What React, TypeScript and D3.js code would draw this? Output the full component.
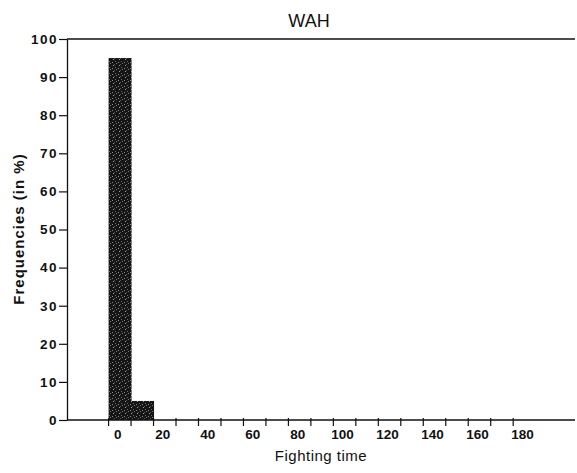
import React, { useEffect, useRef } from "react";
import * as d3 from "d3";

// histogram bins (centre of bin, width 10) and frequencies in %
const binCenters = [0, 10];
const frequencies = [95, 5];
const binWidth = 10;

const yTicks = [0, 10, 20, 30, 40, 50, 60, 70, 80, 90, 100];
const xTickLabels = [0, 20, 40, 60, 80, 100, 120, 140, 160, 180];
const xTickMarks = d3.range(-5, 180, 10);

const title = "WAH";
const xAxisLabel = "Fighting time";
const yAxisLabel = "Frequencies (in %)";

const App = () => {
  const svgRef = useRef<SVGSVGElement | null>(null);
  const svgWidth = 577;
  const svgHeight = 473;
  const margin = { top: 39, right: 2, bottom: 53, left: 67 };
  const innerWidth = svgWidth - margin.left - margin.right;
  const innerHeight = svgHeight - margin.top - margin.bottom;

  useEffect(() => {
    const svg = d3
      .select(svgRef.current)
      .attr("width", svgWidth)
      .attr("height", svgHeight);

    // Clear SVG
    svg.selectAll("*").remove();

    // speckled dark fill, like the scanned bars
    const pattern = svg
      .append("defs")
      .append("pattern")
      .attr("id", "speckle")
      .attr("width", 6)
      .attr("height", 6)
      .attr("patternUnits", "userSpaceOnUse");
    pattern.append("rect").attr("width", 6).attr("height", 6).attr("fill", "#151515");
    [
      [1, 0, "#777"],
      [4, 2, "#999"],
      [0, 4, "#666"],
      [3, 5, "#888"],
      [5, 1, "#555"],
    ].forEach(([x, y, c]) => {
      pattern
        .append("rect")
        .attr("x", x as number)
        .attr("y", y as number)
        .attr("width", 1)
        .attr("height", 1)
        .attr("fill", c as string);
    });

    const xScale = d3.scaleLinear().domain([-23.5, 202.5]).range([0, innerWidth]);
    const yScale = d3.scaleLinear().domain([0, 100]).range([innerHeight, 0]);

    const g = svg
      .append("g")
      .attr("transform", `translate(${margin.left},${margin.top})`);

    const font = "'Liberation Sans', Arial, sans-serif";

    // bars
    g.selectAll("rect.bar")
      .data(frequencies)
      .enter()
      .append("rect")
      .attr("class", "bar")
      .attr("x", (d, i) => xScale(binCenters[i] - binWidth / 2))
      .attr("width", (d, i) =>
        xScale(binCenters[i] + binWidth / 2) - xScale(binCenters[i] - binWidth / 2) + 0.5
      )
      .attr("y", (d) => yScale(d))
      .attr("height", (d) => innerHeight - yScale(d))
      .attr("fill", "url(#speckle)");

    // y axis
    const yAxis = d3
      .axisLeft(yScale)
      .tickValues(yTicks)
      .tickSize(8)
      .tickPadding(1)
      .tickSizeOuter(0);
    const yAxisG = g.append("g").call(yAxis);
    yAxisG.select(".domain").attr("stroke", "#111").attr("stroke-width", 1.3);
    yAxisG.selectAll(".tick line").attr("stroke", "#111").attr("stroke-width", 1.2);
    yAxisG
      .selectAll(".tick text")
      .attr("font-family", font)
      .attr("font-size", 13.5)
      .attr("font-weight", "bold")
      .attr("letter-spacing", 1.5)
      .attr("fill", "#111");

    // top frame line
    g.append("line")
      .attr("x1", 0)
      .attr("x2", innerWidth)
      .attr("y1", 0)
      .attr("y2", 0)
      .attr("stroke", "#111")
      .attr("stroke-width", 1.5);

    // x axis: tick marks at bin edges, labels at bin centres
    const xAxisG = g.append("g").attr("transform", `translate(0,${innerHeight})`);
    xAxisG
      .append("line")
      .attr("x1", 0)
      .attr("x2", innerWidth)
      .attr("stroke", "#111")
      .attr("stroke-width", 1.5);
    xAxisG
      .selectAll("line.tick")
      .data(xTickMarks)
      .enter()
      .append("line")
      .attr("class", "tick")
      .attr("x1", (d) => xScale(d))
      .attr("x2", (d) => xScale(d))
      .attr("y1", -2)
      .attr("y2", 6)
      .attr("stroke", "#111")
      .attr("stroke-width", 1.2);
    xAxisG
      .selectAll("text.label")
      .data(xTickLabels)
      .enter()
      .append("text")
      .attr("class", "label")
      .attr("x", (d) => xScale(d) - 2)
      .attr("y", 19)
      .attr("text-anchor", "middle")
      .attr("font-family", font)
      .attr("font-size", 13.5)
      .attr("font-weight", "bold")
      .attr("fill", "#111")
      .text((d) => d);

    xAxisG
      .append("text")
      .attr("x", 254)
      .attr("y", 41)
      .attr("text-anchor", "middle")
      .attr("font-family", font)
      .attr("font-size", 15)
      .attr("letter-spacing", 0.5)
      .attr("fill", "#111")
      .text(xAxisLabel);

    g.append("text")
      .attr("transform", "rotate(-90)")
      .attr("x", -190)
      .attr("y", -43)
      .attr("text-anchor", "middle")
      .attr("font-family", font)
      .attr("font-size", 15)
      .attr("font-weight", "bold")
      .attr("letter-spacing", 1)
      .attr("fill", "#111")
      .text(yAxisLabel);

    svg
      .append("text")
      .attr("x", 309)
      .attr("y", 27)
      .attr("text-anchor", "middle")
      .attr("font-family", font)
      .attr("font-size", 18)
      .attr("fill", "#111")
      .text(title);
  }, []);

  return (
    <svg
      ref={svgRef}
      style={{ position: "absolute", left: 0, top: 0, background: "#fff" }}
    ></svg>
  );
};

export default App;
